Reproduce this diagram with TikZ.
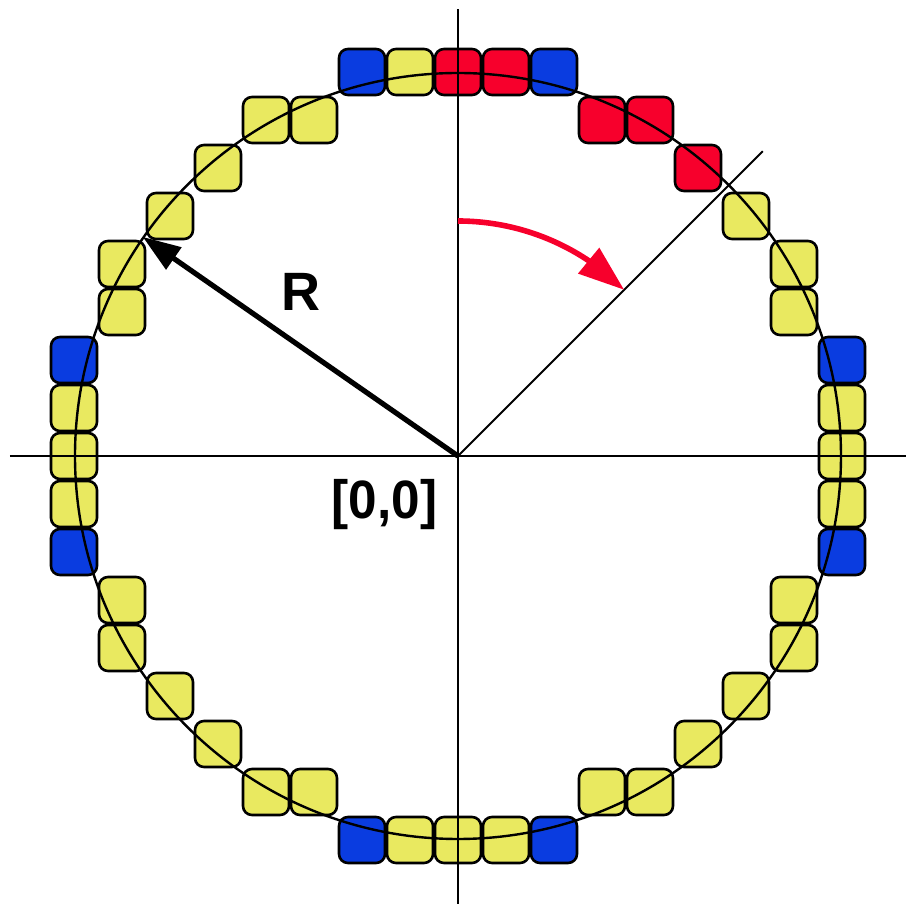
\documentclass[tikz,border=0pt]{standalone}
\usepackage{fontspec}
\setmainfont{Liberation Sans}
\usetikzlibrary{arrows.meta,calc,bending}
\definecolor{cy}{HTML}{E9E960}
\definecolor{cb}{HTML}{0A3CE0}
\definecolor{cr}{HTML}{F7002C}
\tikzset{
  cell/.style={draw=black, line width=1.3pt, rounded corners=4.5pt, minimum size=23pt, inner sep=0pt, fill=#1},
  axis/.style={line width=1pt, black},
  ring/.style={line width=1.2pt, black},
  radarrow/.style={line width=2.6pt, -{Triangle[length=19pt,width=13pt]}},
  rotarrow/.style={line width=2.8pt, cr, -{Triangle[length=23pt,width=16pt,flex]}},
  lbl/.style={font=\fontsize{27}{32}\selectfont\bfseries, inner sep=0pt}
}
\begin{document}
\begin{tikzpicture}[x=0.5pt,y=0.5pt]
\useasboundingbox (-458,-448) rectangle (454,456);
\coordinate (O) at (0,0);
% cells
\foreach \gx/\gy/\c [count=\k] in {
  -2/8/cb,-1/8/cy,0/8/cr,1/8/cr,2/8/cb,
  -4/7/cy,-3/7/cy,3/7/cr,4/7/cr,
  -5/6/cy,5/6/cr,
  -6/5/cy,6/5/cy,
  -7/4/cy,7/4/cy,
  -7/3/cy,7/3/cy,
  -8/2/cb,8/2/cb,
  -8/1/cy,8/1/cy,
  -8/0/cy,8/0/cy,
  -8/-1/cy,8/-1/cy,
  -8/-2/cb,8/-2/cb,
  -7/-3/cy,7/-3/cy,
  -7/-4/cy,7/-4/cy,
  -6/-5/cy,6/-5/cy,
  -5/-6/cy,5/-6/cy,
  -4/-7/cy,-3/-7/cy,3/-7/cy,4/-7/cy,
  -2/-8/cb,-1/-8/cy,0/-8/cy,1/-8/cy,2/-8/cb}
  \node[cell=\c] (c\k) at (48*\gx,48*\gy) {};
% circle
\draw[ring] (O) circle[radius=383];
% axes
\coordinate (xl) at (-448,0);
\coordinate (xr) at (448,0);
\coordinate (yt) at (0,447);
\coordinate (yb) at (0,-448);
\draw[axis] (xl) -- (xr);
\draw[axis] (yb) -- (yt);
% diagonal
\coordinate (dg) at (45:431);
\draw[axis] (O) -- (dg);
% radius arrow
\coordinate (rt) at (145.2:384);
\draw[radarrow] (O) -- (rt);
% rotation arrow
\coordinate (as) at (0,235);
\draw[rotarrow] (as) arc[start angle=90, end angle=45, radius=235];
% labels
\node[lbl] (lr) at (-157,164) {R};
\node[lbl, xscale=0.95] (lo) at (-73.5,-49) {[0,0]};
\end{tikzpicture}
\end{document}
